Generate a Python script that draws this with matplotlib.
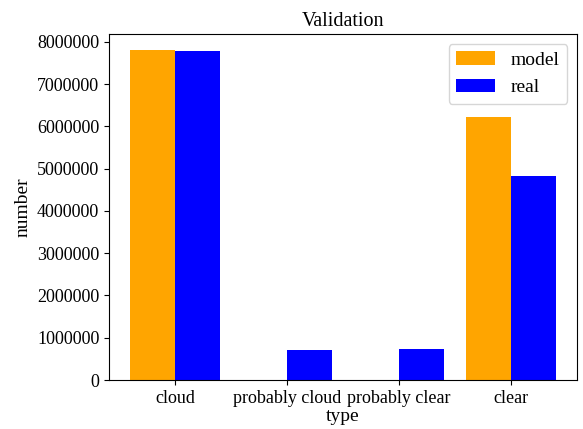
import matplotlib
matplotlib.use("Agg")
import matplotlib.pyplot as plt
import numpy as np

categories = ["cloud", "probably cloud", "probably clear", "clear"]
model_counts = [7795000, 0, 0, 6210000]
real_counts = [7770000, 703000, 727000, 4820000]

plt.rcParams["font.family"] = ["Liberation Serif", "DejaVu Serif"]

x = np.arange(len(categories))
width = 0.4

fig, ax = plt.subplots(figsize=(5.83, 4.29), dpi=100)
ax.bar(x - width / 2, model_counts, width, color="orange", label="model")
ax.bar(x + width / 2, real_counts, width, color="blue", label="real")
ax.set_xticks(x)
ax.set_xticklabels(categories, fontsize=13)
ax.tick_params(axis="y", labelsize=13)
ax.ticklabel_format(axis="y", style="plain")
ax.set_xlabel("type", fontsize=14, labelpad=1)
ax.set_ylabel("number", fontsize=14)
ax.set_title("Validation", fontsize=14.5)
ax.legend(fontsize=14)

fig.subplots_adjust(left=0.187, right=0.99, top=0.921, bottom=0.114)
fig.savefig("out.png", dpi=100)
plt.close(fig)
